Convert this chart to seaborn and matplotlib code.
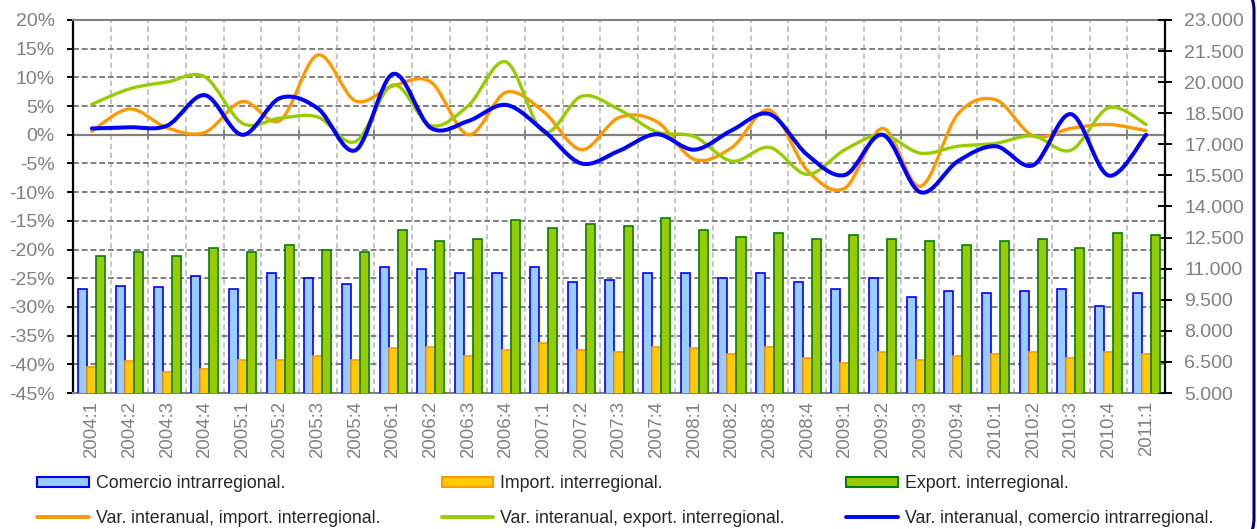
import numpy as np
import pandas as pd
import matplotlib
matplotlib.use("Agg")
import matplotlib.pyplot as plt
import seaborn as sns
from matplotlib.path import Path
from matplotlib.patches import PathPatch, Rectangle
from matplotlib.lines import Line2D
from matplotlib.transforms import Affine2D

# ---------------- data ----------------
categorias = ["2004:1", "2004:2", "2004:3", "2004:4",
              "2005:1", "2005:2", "2005:3", "2005:4",
              "2006:1", "2006:2", "2006:3", "2006:4",
              "2007:1", "2007:2", "2007:3", "2007:4",
              "2008:1", "2008:2", "2008:3", "2008:4",
              "2009:1", "2009:2", "2009:3", "2009:4",
              "2010:1", "2010:2", "2010:3", "2010:4",
              "2011:1"]

comercio_intra = [10000, 10180, 10100, 10650, 10000, 10800, 10550, 10280,
                  11100, 11000, 10800, 10800, 11100, 10370, 10450, 10800,
                  10800, 10550, 10800, 10370, 10000, 10550, 9650, 9920,
                  9830, 9920, 10000, 9200, 9830]

import_inter = [6250, 6530, 6000, 6180, 6610, 6610, 6790, 6610,
                7160, 7240, 6790, 7060, 7430, 7060, 6980, 7240,
                7160, 6880, 7240, 6700, 6430, 6980, 6610, 6790,
                6880, 6980, 6700, 6980, 6880]

export_inter = [11610, 11800, 11610, 11980, 11800, 12160, 11900, 11800,
                12880, 12350, 12430, 13330, 12980, 13160, 13060, 13430,
                12880, 12530, 12710, 12430, 12610, 12430, 12340, 12160,
                12340, 12430, 11980, 12710, 12610]

var_import = [0.6, 4.5, 1.2, 0.4, 5.8, 2.5, 13.9, 5.9,
              8.5, 9.2, 0.0, 7.4, 4.0, -2.6, 3.0, 2.3,
              -4.3, -2.2, 4.3, -6.2, -9.3, 1.1, -9.0, 3.6,
              6.1, -0.2, 1.1, 1.8, 0.7]

var_export = [5.3, 8.0, 9.2, 10.1, 2.0, 2.9, 3.1, -1.2,
              8.7, 1.6, 5.1, 12.7, 0.5, 6.7, 4.4, 0.5,
              -0.3, -4.6, -2.2, -6.9, -2.6, 0.0, -3.2, -2.0,
              -1.5, -0.2, -2.7, 4.7, 1.8]

var_intra = [1.1, 1.3, 1.6, 6.9, 0.0, 6.4, 4.6, -2.7,
             10.6, 1.2, 2.4, 5.2, 0.7, -5.0, -2.8, 0.1,
             -2.6, 0.8, 3.6, -3.5, -7.0, 0.0, -10.0, -4.6,
             -2.0, -5.3, 3.6, -7.1, 0.0]

series_barras = ["Comercio intrarregional.", "Import. interregional.", "Export. interregional."]
series_lineas = ["Var. interanual, import. interregional.",
                 "Var. interanual, export. interregional.",
                 "Var. interanual, comercio intrarregional."]

pct_ticks = list(range(-45, 21, 5))
val_ticks = list(range(5000, 23001, 1500))

# ---------------- style ----------------
relleno_barras = ["#99CCFF", "#FFCC00", "#99CC00"]
borde_barras = ["#0000FF", "#FF9900", "#008000"]
color_lineas = ["#FF9900", "#99CC00", "#0000FF"]
ancho_lineas = [2.4, 2.4, 2.9]
GRIS = "#808080"

sns.set_style("white")
plt.rcParams["font.family"] = ["Liberation Sans", "DejaVu Sans"]

W, H = 1257, 529
fig = plt.figure(figsize=(W / 100, H / 100), dpi=100)
ax = fig.add_axes([73 / W, 1 - 393 / H, (1165 - 73) / W, 373 / H])
ax2 = ax.twinx()

# ---------------- bars (right axis) ----------------
df = pd.DataFrame({
    "periodo": categorias * 3,
    "serie": [s for s in series_barras for _ in categorias],
    "valor": comercio_intra + import_inter + export_inter,
})
sns.barplot(data=df, x="periodo", y="valor", hue="serie", order=categorias,
            hue_order=series_barras, palette=relleno_barras, saturation=1,
            width=0.72, errorbar=None, legend=False, ax=ax2)
for cont, ec in zip(ax2.containers, borde_barras):
    for b in cont:
        b.set_edgecolor(ec)
        b.set_linewidth(1.2)

ax2.set_ylim(5000, 23000)
ax2.set_yticks(val_ticks)
ax2.set_yticklabels([f"{v:,}".replace(",", ".") for v in val_ticks])
ax2.set_ylabel("")
ax2.set_xlabel("")
for s in ["left", "top", "bottom"]:
    ax2.spines[s].set_visible(False)
ax2.spines["right"].set_color("black")
ax2.spines["right"].set_linewidth(1.6)
ax2.tick_params(axis="y", direction="inout", length=10, width=1.4, color="black",
                labelcolor=GRIS, labelsize=14, pad=9)

# ---------------- lines (left axis) ----------------
n = len(categorias)
xs = np.arange(n)


def smooth_path(x, y):
    pts = np.column_stack([x, y]).astype(float)
    ext = np.vstack([pts[0], pts, pts[-1]])
    verts = [pts[0]]
    codes = [Path.MOVETO]
    for i in range(len(pts) - 1):
        p0, p1, p2, p3 = ext[i], ext[i + 1], ext[i + 2], ext[i + 3]
        c1 = p1 + (p2 - p0) / 6.0
        c2 = p2 - (p3 - p1) / 6.0
        verts += [c1, c2, p2]
        codes += [Path.CURVE4] * 3
    return Path(verts, codes)


for vals, col, lw in zip([var_import, var_export, var_intra], color_lineas, ancho_lineas):
    ax.add_patch(PathPatch(smooth_path(xs, vals), facecolor="none", edgecolor=col,
                           lw=lw, capstyle="round", joinstyle="round", zorder=3))

ax.set_ylim(-45, 20)
ax.set_yticks(pct_ticks)
ax.set_yticklabels([f"{v}%" for v in pct_ticks])
ax.set_xlim(-0.5, n - 0.5)
ax.set_xticks(xs)
ax.set_xticklabels(categorias, rotation=90)
ax.set_xticks(np.arange(0.5, n - 1, 1), minor=True)
ax.tick_params(axis="x", which="both", length=0, labelcolor=GRIS, labelsize=13.4, pad=5.5)
ax.tick_params(axis="y", direction="out", length=4, width=1.4, color="black",
               labelcolor=GRIS, labelsize=14, pad=9)

ax.set_axisbelow(True)
ax.grid(False)
ax.grid(axis="x", which="minor", color="#C0C0C0", linestyle=(0, (3, 2)), lw=1.3)
ax.grid(axis="y", which="major", color=GRIS, linestyle=(0, (3, 1.5)), lw=1.4)

ax.axhline(0, color=GRIS, lw=1.6, zorder=1.5)
ax.vlines(np.arange(1.5, n - 1, 2), -0.8, 0.8, color=GRIS, lw=1.4, zorder=1.5)

ax.spines["left"].set_color("black")
ax.spines["left"].set_linewidth(1.6)
ax.spines["right"].set_visible(False)
for s in ["top", "bottom"]:
    ax.spines[s].set_color(GRIS)
    ax.spines[s].set_linewidth(1.5)
ax.set_xlabel("")
ax.set_ylabel("")

# ---------------- legend ----------------
h_bars = [Rectangle((0, 0), 1, 1, facecolor=f, edgecolor=e, lw=1.5)
          for f, e in zip(relleno_barras, borde_barras)]
h_lines = [Line2D([], [], color=c, lw=2.8) for c in color_lineas]
handles = [h_bars[0], h_lines[0], h_bars[1], h_lines[1], h_bars[2], h_lines[2]]
labels = [series_barras[0], series_lineas[0], series_barras[1], series_lineas[1],
          series_barras[2], series_lineas[2]]
fig.legend(handles, labels, loc="upper left", bbox_to_anchor=(37 / W, 1 - 475 / H),
           ncol=3, frameon=False, fontsize=12.8, handlelength=2.9, handleheight=0.5,
           handletextpad=0.4, columnspacing=3.45, labelspacing=1.02,
           borderpad=0, borderaxespad=0)

# ---------------- outer rounded frame (only right edge falls inside) ----------------
R, T, B, r = 1254.0, H + 14.5, -14.5, 25.0
frame_path = Path(
    [(R - r - 40, T), (R - r, T), (R, T), (R, T - r), (R, B + r), (R, B), (R - r, B), (R - r - 40, B)],
    [Path.MOVETO, Path.LINETO, Path.CURVE3, Path.CURVE3, Path.LINETO, Path.CURVE3, Path.CURVE3, Path.LINETO])
px = Affine2D().scale(1 / 100.0) + fig.dpi_scale_trans
fig.add_artist(PathPatch(frame_path, transform=px, facecolor="none",
                         edgecolor="#000080", lw=2.2))

fig.savefig("out.png", dpi=100)
